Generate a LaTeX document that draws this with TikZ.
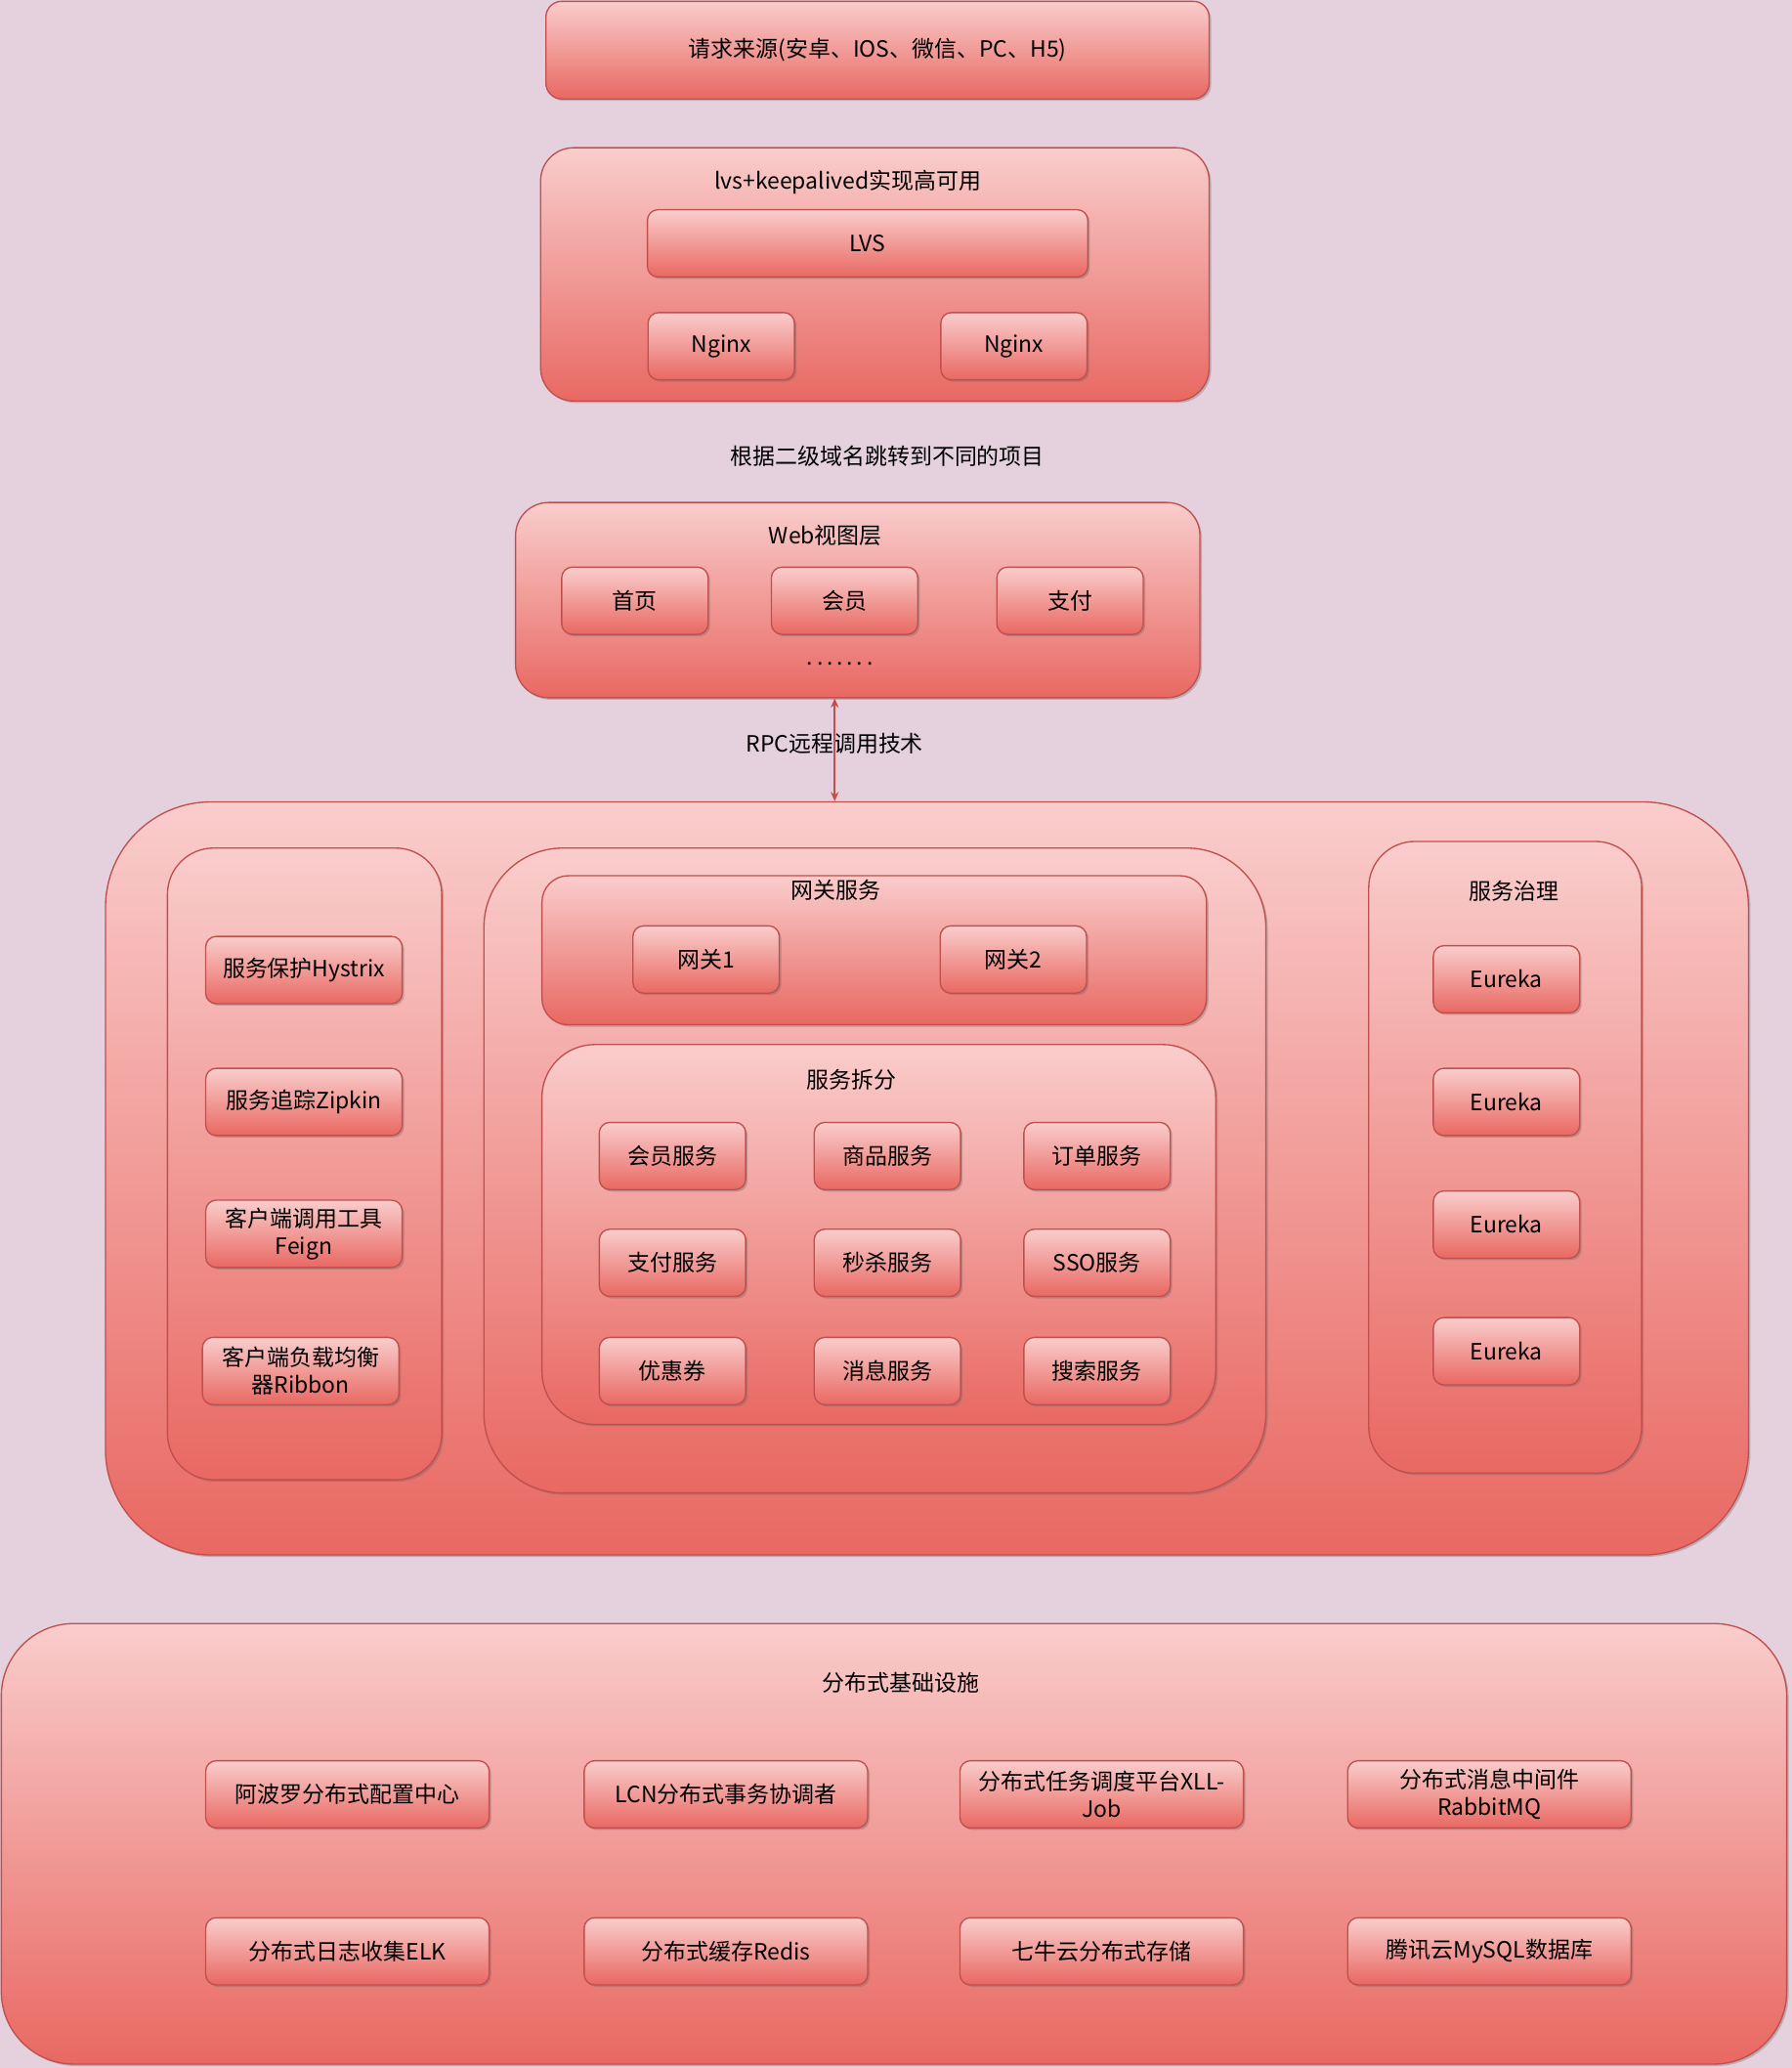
\documentclass[tikz,border=0pt]{standalone}
\usepackage{fontspec}
\setmainfont{Noto Sans CJK SC}
\usetikzlibrary{shadows,arrows.meta}
\definecolor{bgpink}{RGB}{229,209,222}
\definecolor{boxtop}{RGB}{249,205,204}
\definecolor{boxbot}{RGB}{233,104,98}
\definecolor{boxline}{RGB}{192,80,77}
\begin{document}
\begin{tikzpicture}[x=1pt,y=-1pt,
	box/.style={draw=boxline,line width=1pt,top color=boxtop,bottom color=boxbot,rounded corners=8pt,
		drop shadow={shadow xshift=1.5pt,shadow yshift=-1.5pt,opacity=0.35,fill=black!60},
		inner sep=0pt,align=center,font=\fontsize{17}{21}\selectfont},
	small/.style={box,minimum width=111pt,minimum height=51pt},
	wide/.style={box,minimum width=215pt,minimum height=51pt},
	side/.style={box,minimum width=149pt,minimum height=51pt},
	title/.style={font=\fontsize{17}{21}\selectfont}]
	\fill[bgpink] (0,0) rectangle (1359,1568);

	\node[box,minimum width=503pt,minimum height=74pt,rounded corners=12pt] (source) at (665.5,38) {请求来源(安卓、IOS、微信、PC、H5)};

	\node[box,minimum width=507pt,minimum height=192pt,rounded corners=25pt] (lvsgroup) at (663.5,208) {};
	\node[title] (lvstitle) at (643,138) {lvs+keepalived实现高可用};
	\node[box,minimum width=334pt,minimum height=51pt] (lvs) at (658,184.5) {LVS};
	\node[small] (nginxa) at (547,262.5) {Nginx};
	\node[small] (nginxb) at (769,262.5) {Nginx};

	\node[title] (jump) at (673,346) {根据二级域名跳转到不同的项目};

	\node[box,minimum width=519pt,minimum height=148pt,rounded corners=25pt] (web) at (650.5,455) {};
	\node[title] (webtitle) at (626,406) {Web视图层};
	\node[small] (home) at (481.5,455.5) {首页};
	\node[small] (member) at (640.5,455.5) {会员};
	\node[small] (pay) at (811.5,455.5) {支付};
	\node[title] (more) at (637,503) {.\,.\,.\,.\,.\,.\,.};

	\node[box,minimum width=1246pt,minimum height=571pt,rounded corners=80pt] (core) at (703,893.5) {};
	\node[title] (rpc) at (633,564) {RPC远程调用技术};
	\path[{Stealth[length=7pt,width=6pt]}-{Stealth[length=7pt,width=6pt]},draw=boxline,line width=1.2pt] (web.south -| rpc) -- (core.north -| rpc);

	\node[box,minimum width=208pt,minimum height=479pt,rounded corners=35pt] (tools) at (231,882.5) {};
	\node[side] (hystrix) at (230.5,735.5) {服务保护Hystrix};
	\node[side] (zipkin) at (230.5,835.5) {服务追踪Zipkin};
	\node[side] (feign) at (230.5,935.5) {客户端调用工具\\Feign};
	\node[side] (ribbon) at (228,1039.5) {客户端负载均衡\\器Ribbon};

	\node[box,minimum width=593pt,minimum height=489pt,rounded corners=60pt] (services) at (663.5,887.5) {};
	\node[box,minimum width=504pt,minimum height=113pt,rounded corners=20pt] (gateway) at (663,720.5) {};
	\node[title] (gwtitle) at (634,675) {网关服务};
	\node[small] (gwa) at (535.5,727.5) {网关1};
	\node[small] (gwb) at (768.5,727.5) {网关2};
	\node[box,minimum width=511pt,minimum height=288pt,rounded corners=40pt] (split) at (666.5,936) {};
	\node[title] (splittitle) at (646,819) {服务拆分};
	\node[small] (membersvc) at (510,876.5) {会员服务};
	\node[small] (goodssvc) at (673,876.5) {商品服务};
	\node[small] (ordersvc) at (832,876.5) {订单服务};
	\node[small] (paysvc) at (510,957.5) {支付服务};
	\node[small] (seckillsvc) at (673,957.5) {秒杀服务};
	\node[small] (ssosvc) at (832,957.5) {SSO服务};
	\node[small] (coupon) at (510,1039.5) {优惠券};
	\node[small] (msgsvc) at (673,1039.5) {消息服务};
	\node[small] (searchsvc) at (832,1039.5) {搜索服务};

	\node[box,minimum width=207pt,minimum height=479pt,rounded corners=35pt] (governance) at (1141.5,877.5) {};
	\node[title] (govtitle) at (1148,676) {服务治理};
	\node[small] (eurekaa) at (1142.5,742.5) {Eureka};
	\node[small] (eurekab) at (1142.5,835.5) {Eureka};
	\node[small] (eurekac) at (1142.5,928.5) {Eureka};
	\node[small] (eurekad) at (1142.5,1024.5) {Eureka};

	\node[box,minimum width=1354pt,minimum height=334pt,rounded corners=55pt] (infra) at (678,1398) {};
	\node[title] (infratitle) at (683,1276) {分布式基础设施};
	\node[wide] (apollo) at (263.5,1360.5) {阿波罗分布式配置中心};
	\node[wide] (lcn) at (550.5,1360.5) {LCN分布式事务协调者};
	\node[wide] (xxljob) at (835.5,1360.5) {分布式任务调度平台XLL-\\Job};
	\node[wide] (rabbitmq) at (1129.5,1360.5) {分布式消息中间件\\RabbitMQ};
	\node[wide] (elk) at (263.5,1479.5) {分布式日志收集ELK};
	\node[wide] (redis) at (550.5,1479.5) {分布式缓存Redis};
	\node[wide] (qiniu) at (835.5,1479.5) {七牛云分布式存储};
	\node[wide] (mysql) at (1129.5,1479.5) {腾讯云MySQL数据库};
\end{tikzpicture}
\end{document}
